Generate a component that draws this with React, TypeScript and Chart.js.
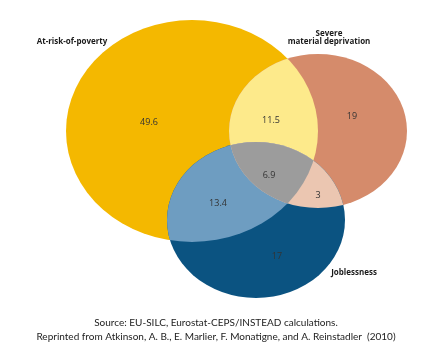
import React, { useEffect, useRef } from "react";
import { Chart, registerables } from "chart.js";

Chart.register(...registerables);

// ---- data ----
const setNames = ["At-risk-of-poverty", "Severe material deprivation", "Joblessness"];
const setLabelLines = [["At-risk-of-poverty"], ["Severe", "material deprivation"], ["Joblessness"]];
const regionNames = [
  "Poverty only",
  "Poverty & deprivation",
  "Deprivation only",
  "Poverty & joblessness",
  "All three",
  "Deprivation & joblessness",
  "Joblessness only",
];
const regionValues = [49.6, 11.5, 19, 13.4, 6.9, 3, 17];
const sourceLines = [
  "Source: EU-SILC, Eurostat-CEPS/INSTEAD calculations.",
  "Reprinted from Atkinson, A. B., E. Marlier, F. Monatigne, and A. Reinstadler  (2010)",
];

// ---- layout (data units of the hidden scales) ----
const ellipseGeom = [
  { cx: 192, cy: 131, rx: 126, ry: 111 },
  { cx: 318, cy: 131, rx: 89, ry: 77 },
  { cx: 256, cy: 220, rx: 89, ry: 78 },
];
const regionLabelPos = [
  [149, 122],
  [271, 120],
  [352, 116],
  [218, 203],
  [269, 175],
  [318, 195],
  [277, 256],
];
const setLabelPos = [
  { x: 72, y: 42, lines: [0] },
  { x: 329, y: 34, lines: [0, 8] },
  { x: 354, y: 273, lines: [0] },
];
const sourcePos = [
  [216, 323],
  [216, 337],
];

// ---- styles ----
const setColors = ["#F4B800", "#D58B6B", "#0B5381"];
const pairColors = { ab: "#FDEA8B", ac: "#6E9DC1", bc: "#EBC6B1" };
const allColor = "#9C9C9C";

const vennPlugin = {
  id: "venn",
  beforeDatasetsDraw(chart: any) {
    const { ctx, scales } = chart;
    const xs = scales.x;
    const ys = scales.y;
    const sx = Math.abs(xs.getPixelForValue(1) - xs.getPixelForValue(0));
    const sy = Math.abs(ys.getPixelForValue(1) - ys.getPixelForValue(0));
    const path = (i: number) => {
      const e = ellipseGeom[i];
      ctx.beginPath();
      ctx.ellipse(xs.getPixelForValue(e.cx), ys.getPixelForValue(e.cy), e.rx * sx, e.ry * sy, 0, 0, Math.PI * 2);
    };
    ctx.save();
    for (let i = 0; i < 3; i++) {
      path(i);
      ctx.fillStyle = setColors[i];
      ctx.fill();
    }
    const inter = (clips: number[], fillIdx: number, color: string) => {
      ctx.save();
      clips.forEach((c) => {
        path(c);
        ctx.clip();
      });
      path(fillIdx);
      ctx.fillStyle = color;
      ctx.fill();
      ctx.restore();
    };
    inter([0], 1, pairColors.ab);
    inter([0], 2, pairColors.ac);
    inter([1], 2, pairColors.bc);
    inter([0, 1], 2, allColor);
    ctx.restore();
  },
  afterDatasetsDraw(chart: any) {
    const { ctx, scales } = chart;
    const xs = scales.x;
    const ys = scales.y;
    const meta = chart.getDatasetMeta(0);
    ctx.save();
    ctx.textAlign = "center";
    ctx.textBaseline = "middle";
    ctx.fillStyle = "#333333";
    ctx.font = "9px 'Open Sans', sans-serif";
    meta.data.forEach((el: any, i: number) => {
      ctx.fillText(String(regionValues[i]), el.x, el.y);
    });
    ctx.fillStyle = "#1a1a1a";
    ctx.font = "bold 8px 'Open Sans', sans-serif";
    setLabelPos.forEach((p, i) => {
      setLabelLines[i].forEach((line, j) => {
        ctx.fillText(line, xs.getPixelForValue(p.x), ys.getPixelForValue(p.y + p.lines[j]));
      });
    });
    ctx.fillStyle = "#222222";
    ctx.font = "10px Lato, sans-serif";
    sourceLines.forEach((line, i) => {
      ctx.fillText(line, xs.getPixelForValue(sourcePos[i][0]), ys.getPixelForValue(sourcePos[i][1]));
    });
    ctx.restore();
  },
};

export default function App() {
  const ref = useRef<HTMLCanvasElement>(null);
  useEffect(() => {
    if (!ref.current) return;
    const chart = new Chart(ref.current, {
      type: "scatter",
      data: {
        datasets: [
          {
            label: regionNames.join(", "),
            data: regionLabelPos.map((p, i) => ({ x: p[0], y: p[1], v: regionValues[i] })),
            pointRadius: 0,
            pointHoverRadius: 0,
          },
        ],
      },
      options: {
        responsive: false,
        maintainAspectRatio: false,
        animation: false,
        events: [],
        layout: { padding: 0 },
        scales: {
          x: { type: "linear", min: 0, max: 430, display: false },
          y: { type: "linear", min: 0, max: 351, reverse: true, display: false },
        },
        plugins: {
          legend: { display: false },
          tooltip: { enabled: false },
          title: { display: false, text: setNames.join(" / ") },
        },
      },
      plugins: [vennPlugin],
    });
    return () => chart.destroy();
  }, []);
  return (
    <div style={{ position: "fixed", left: 0, top: 0, width: 430, height: 351, background: "#fff" }}>
      <canvas ref={ref} width={430} height={351} style={{ width: 430, height: 351, display: "block" }} />
    </div>
  );
}
